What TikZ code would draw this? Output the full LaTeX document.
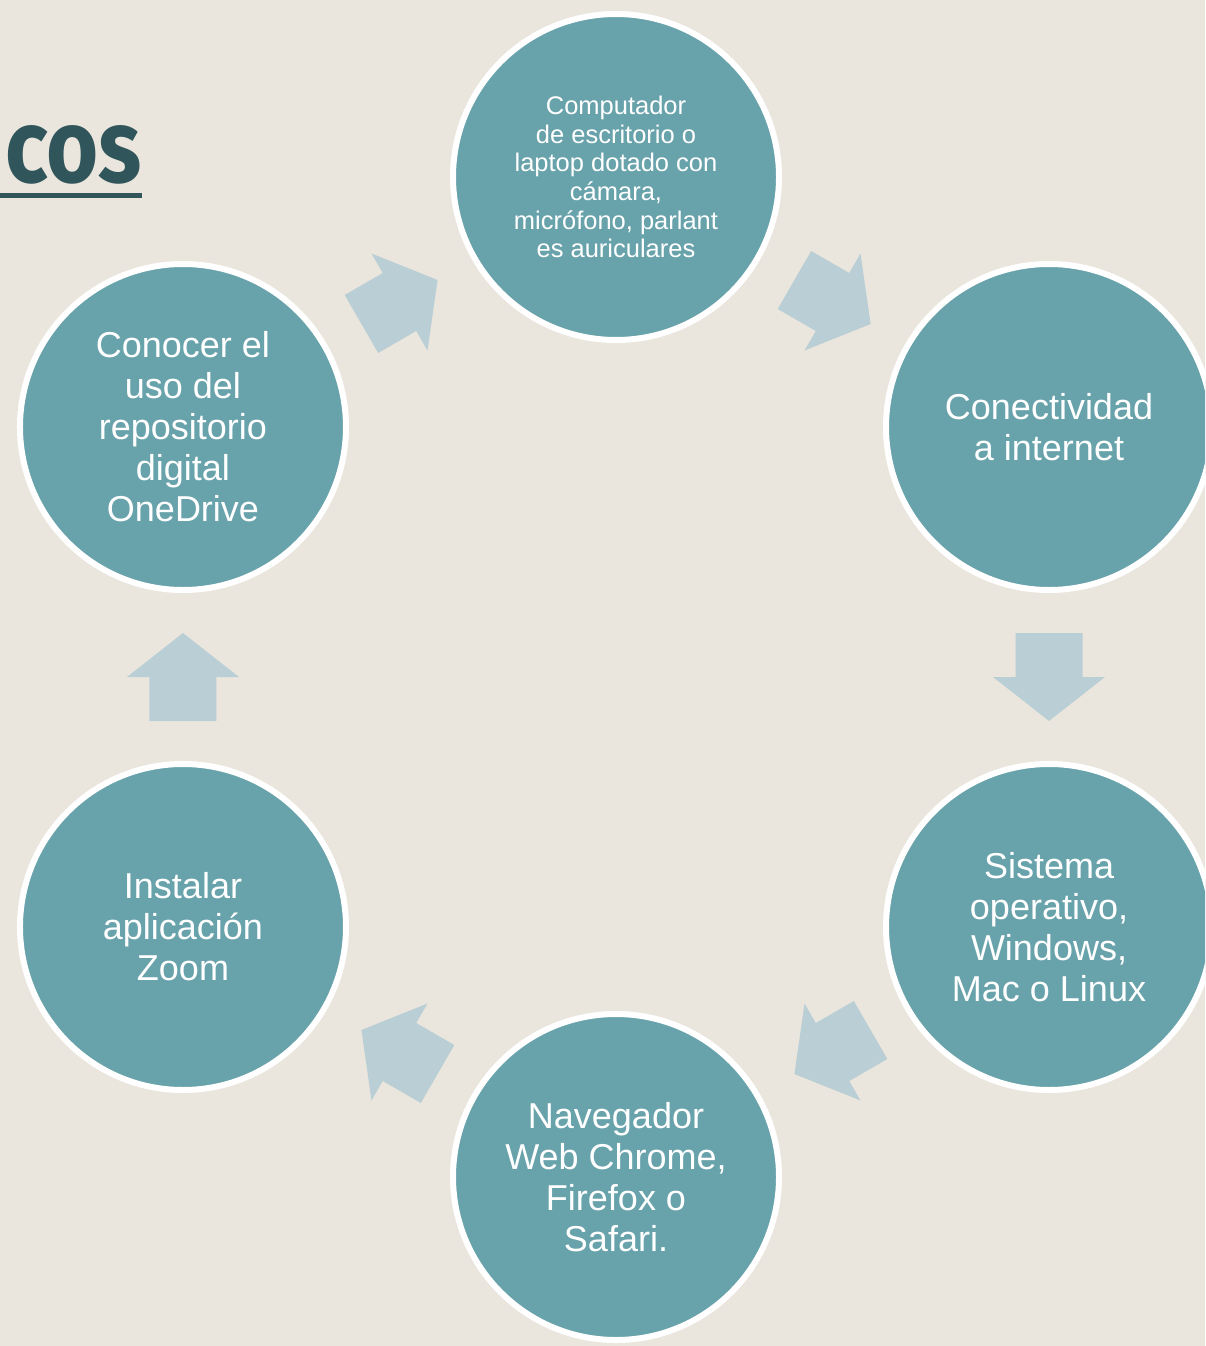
\documentclass[tikz,border=0pt]{standalone}
\usepackage{fontspec}
\setmainfont{Liberation Sans}
\newfontfamily\titlefont[FakeStretch=0.86]{Fira Sans}
\usetikzlibrary{calc}

\definecolor{fondo}{HTML}{EBE6DD}
\definecolor{circulo}{HTML}{68A2AB}
\definecolor{flechaclara}{HTML}{BACFD5}
\definecolor{titulo}{HTML}{30555B}

\begin{document}
\begin{tikzpicture}[
            x=1pt, y=1pt,
            paso/.style={ circle, draw=white, line width=6pt, fill=circulo, minimum size=326pt, inner sep=0pt,
                          text=white, align=center, font=\fontsize{36}{41}\selectfont },
            flecha/.pic={ \fill[flechaclara] (-44,33.5) -- (0,33.5) -- (0,56) -- (44,0) -- (0,-56) -- (0,-33.5) -- (-44,-33.5) -- cycle; }
        ]

        \fill[fondo] (0,0) rectangle (1205,-1346);
        \clip (0,0) rectangle (1205,-1346);
        \coordinate (centro) at (616,-677);

        % titulo cortado
        \node[anchor=base west, inner sep=0pt, text=titulo, font=\titlefont\bfseries\fontsize{104}{104}\selectfont] (tit) at (5,-182) {cos};
        \draw[titulo, line width=5pt] (0,-195) -- (tit.east |- 0,-195);

        % pasos
        \node[paso, font=\fontsize{25.5}{28.6}\selectfont] (equipo) at ($(centro)+(90:500)$) {Computador\\de escritorio o\\laptop dotado con\\cámara,\\micrófono, parlant\\es auriculares};
        \node[paso] (red) at ($(centro)+(30:500)$) {Conectividad\\a internet};
        \node[paso] (sistema) at ($(centro)+(-30:500)$) {Sistema\\operativo,\\Windows,\\Mac o Linux};
        \node[paso] (navegador) at ($(centro)+(-90:500)$) {Navegador\\Web Chrome,\\Firefox o\\Safari.};
        \node[paso] (zoom) at ($(centro)+(-150:500)$) {Instalar\\aplicación\\Zoom};
        \node[paso] (onedrive) at ($(centro)+(150:500)$) {Conocer el\\uso del\\repositorio\\digital\\OneDrive};

        % flechas
        \pic[rotate=-30] (f1) at ($(equipo)!0.5!(red)$) {flecha};
        \pic[rotate=-90] (f2) at ($(red)!0.5!(sistema)$) {flecha};
        \pic[rotate=-150] (f3) at ($(sistema)!0.5!(navegador)$) {flecha};
        \pic[rotate=150] (f4) at ($(navegador)!0.5!(zoom)$) {flecha};
        \pic[rotate=90] (f5) at ($(zoom)!0.5!(onedrive)$) {flecha};
        \pic[rotate=30] (f6) at ($(onedrive)!0.5!(equipo)$) {flecha};
    \end{tikzpicture}
\end{document}
